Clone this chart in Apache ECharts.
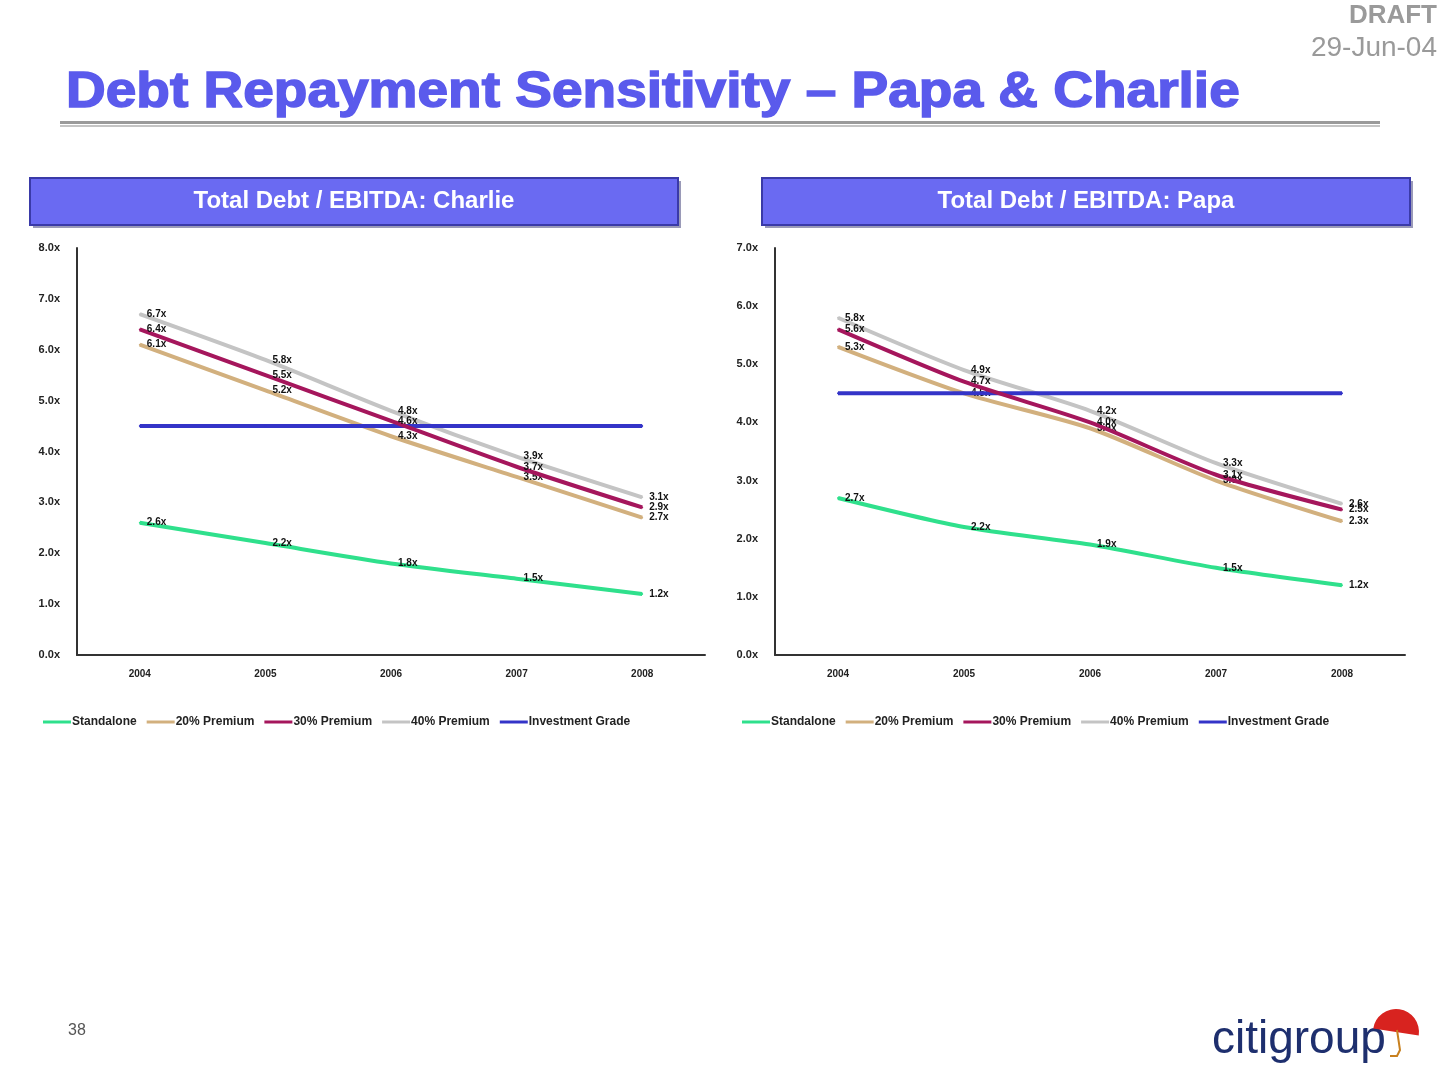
<!DOCTYPE html>
<html>
<head>
<meta charset="utf-8">
<script src="https://cdn.jsdelivr.net/npm/echarts@6/dist/echarts.min.js"></script>
<style>
html,body{margin:0;padding:0;background:#fff;}
#c{width:1440px;height:1080px;}
</style>
</head>
<body>
<div id="c"></div>
<script>
const years = ['2004','2005','2006','2007','2008'];
const seriesNames = ['Standalone','20% Premium','30% Premium','40% Premium','Investment Grade'];

// Charlie
const charlieStandalone = [2.6, 2.2, 1.8, 1.5, 1.2];
const charlie20 = [6.1, 5.2, 4.3, 3.5, 2.7];
const charlie30 = [6.4, 5.5, 4.6, 3.7, 2.9];
const charlie40 = [6.7, 5.8, 4.8, 3.9, 3.1];
const charlieIG = [4.5, 4.5, 4.5, 4.5, 4.5];

// Papa
const papaStandalone = [2.7, 2.2, 1.9, 1.5, 1.2];
const papa20 = [5.3, 4.5, 3.9, 3.0, 2.3];
const papa30 = [5.6, 4.7, 4.0, 3.1, 2.5];
const papa40 = [5.8, 4.9, 4.2, 3.3, 2.6];
const papaIG = [4.5, 4.5, 4.5, 4.5, 4.5];

const colors = ['#2fe08c', '#d2b07e', '#a5165c', '#c4c4c4', '#3434c8'];

const chart = echarts.init(document.getElementById('c'));

function mkSeries(name, data, idx, gi, showLabel) {
  return {
    name: name,
    type: 'line',
    xAxisIndex: gi,
    yAxisIndex: gi,
    data: data,
    smooth: idx === 4 ? false : 0.25,
    symbol: 'circle',
    symbolSize: 2,
    showSymbol: true,
    z: idx === 4 ? 3 : (idx === 2 ? 4 : 2),
    lineStyle: { color: colors[idx], width: 4 },
    itemStyle: { color: colors[idx] },
    labelLayout: { hideOverlap: false },
    label: {
      show: showLabel,
      position: 'right',
      distance: 6,
      formatter: p => p.value.toFixed(1) + 'x',
      fontFamily: 'Liberation Sans, Arial, sans-serif',
      fontSize: 10,
      fontWeight: 'bold',
      color: '#111'
    }
  };
}

function yAxis(gi, max) {
  return {
    type: 'value', gridIndex: gi, min: 0, max: max, interval: 1,
    axisLine: { show: true, lineStyle: { color: '#333', width: 2 } },
    axisTick: { show: false },
    splitLine: { show: false },
    axisLabel: {
      margin: 17,
      formatter: v => v.toFixed(1) + 'x',
      fontFamily: 'Liberation Sans, Arial, sans-serif',
      fontSize: 11, fontWeight: 'bold', color: '#222'
    }
  };
}
function xAxis(gi) {
  return {
    type: 'category', gridIndex: gi, data: years, boundaryGap: true,
    axisLine: { show: true, lineStyle: { color: '#333', width: 2 } },
    axisTick: { show: false },
    axisLabel: {
      margin: 14,
      fontFamily: 'Liberation Sans, Arial, sans-serif',
      fontSize: 10, fontWeight: 'bold', color: '#222'
    }
  };
}
function legend(left) {
  return {
    left: left, top: 711, orient: 'horizontal',
    icon: 'rect', itemWidth: 28, itemHeight: 3, itemGap: 10,
    data: seriesNames,
    textStyle: {
      fontFamily: 'Liberation Sans, Arial, sans-serif',
      fontSize: 12, fontWeight: 'bold', color: '#222', padding: [0, 0, 0, -4]
    }
  };
}

const charlieData = [charlieStandalone, charlie20, charlie30, charlie40, charlieIG];
const papaData = [papaStandalone, papa20, papa30, papa40, papaIG];

const series = [];
seriesNames.forEach((n, i) => series.push(mkSeries(n, charlieData[i], i, 0, i !== 4)));
seriesNames.forEach((n, i) => series.push(mkSeries(n, papaData[i], i, 1, i !== 4)));

function header(x, text) {
  return [
    { type: 'rect', shape: { x: x + 3, y: 181, width: 648, height: 47 }, style: { fill: '#9a9ab8' }, z: 1 },
    { type: 'rect', shape: { x: x, y: 178, width: 648, height: 47 }, style: { fill: '#6a6af2', stroke: '#3a3aa8', lineWidth: 2 }, z: 2 },
    { type: 'text', x: x + 324, y: 201, z: 3,
      style: { text: text, fill: '#fff', font: 'bold 24px "Liberation Sans", Arial, sans-serif', textAlign: 'center', textVerticalAlign: 'middle' } }
  ];
}

const option = {
  animation: false,
  backgroundColor: '#fff',
  grid: [
    { left: 77, top: 248, width: 628, height: 407 },
    { left: 775, top: 248, width: 630, height: 407 }
  ],
  xAxis: [xAxis(0), xAxis(1)],
  yAxis: [yAxis(0, 8), yAxis(1, 7)],
  legend: [legend(38), legend(737)],
  series: series,
  graphic: [
    { type: 'text', x: 66, y: 93, scaleX: 1.1,
      style: { text: 'Debt Repayment Sensitivity \u2013 Papa & Charlie', fill: '#5a5aec',
        stroke: '#5a5aec', lineWidth: 1.5,
        font: 'bold 50px "Liberation Sans", Arial, sans-serif', textVerticalAlign: 'middle' } },
    { type: 'rect', shape: { x: 60, y: 121, width: 1320, height: 3 }, style: { fill: '#9a9a9a' } },
    { type: 'rect', shape: { x: 60, y: 125, width: 1320, height: 2 }, style: { fill: '#c4c4c4' } },
    { type: 'text', x: 1437, y: 16,
      style: { text: 'DRAFT', fill: '#9a9a9a', font: 'bold 26px "Liberation Sans", Arial, sans-serif', textAlign: 'right', textVerticalAlign: 'middle' } },
    { type: 'text', x: 1437, y: 48,
      style: { text: '29-Jun-04', fill: '#9a9a9a', font: '28px "Liberation Sans", Arial, sans-serif', textAlign: 'right', textVerticalAlign: 'middle' } },
    ...header(30, 'Total Debt / EBITDA: Charlie'),
    ...header(762, 'Total Debt / EBITDA: Papa'),
    { type: 'text', x: 68, y: 1031,
      style: { text: '38', fill: '#555', font: '16px "Liberation Sans", Arial, sans-serif', textVerticalAlign: 'middle' } },
    { type: 'text', x: 1212, y: 1040,
      style: { text: 'citigroup', fill: '#1e2f6e', font: '46px "Liberation Sans", Arial, sans-serif', textVerticalAlign: 'middle' } },
    { type: 'sector', shape: { cx: 1396, cy: 1032, r0: 0, r: 23, startAngle: Math.PI, endAngle: Math.PI * 2 },
      rotation: -0.15, originX: 1396, originY: 1032,
      style: { fill: '#d8231f' } },
    { type: 'polyline', shape: { points: [[1397, 1030], [1400, 1050], [1397, 1056], [1390, 1056]] },
      style: { stroke: '#c8801f', lineWidth: 2, fill: null } }
  ]
};
chart.setOption(option);
</script>
</body>
</html>
